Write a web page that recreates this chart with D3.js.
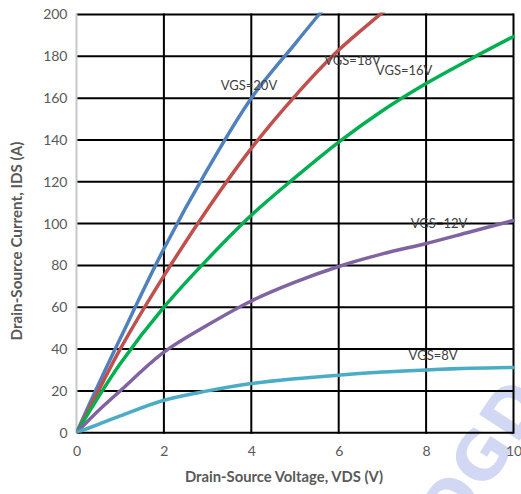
<!DOCTYPE html>
<html>
<head>
<meta charset="utf-8">
<script src="https://cdn.jsdelivr.net/npm/d3@7/dist/d3.min.js"></script>
<style>
  html, body { margin: 0; padding: 0; background: #fff; }
  svg { display: block; }
</style>
</head>
<body>
<svg id="chart" width="521" height="494"></svg>
<script>
// Output characteristics: drain current vs drain-source voltage for several gate voltages
const vdsTicks = [0, 2, 4, 6, 8, 10];
const idsTicks = [0, 20, 40, 60, 80, 100, 120, 140, 160, 180, 200];

const vgs20 = [[0,0],[0.5,23],[1,45],[2,88],[3,126],[4,160],[5,186],[5.55,200],[6,211]];
const vgs18 = [[0,0],[0.5,20],[1,40],[2,75],[3,107],[4,136],[5,161],[6,183],[7,201],[7.5,210]];
const vgs16 = [[0,0],[0.5,17],[1,33],[2,60],[3,83],[4,104],[5,122],[6,139],[7,154],[8,167],[9,178.5],[10,189.5]];
const vgs12 = [[0,0],[0.5,10.5],[1,20],[2,38.5],[3,51.5],[4,63],[5,72],[6,79.5],[7,85.5],[8,90.5],[9,96],[10,101.5]];
const vgs8  = [[0,0],[0.5,4],[1,8],[2,15.5],[3,20],[4,23.5],[5,25.8],[6,27.5],[7,29],[8,30],[9,30.8],[10,31.2]];

const seriesNames  = ["VGS=20V", "VGS=18V", "VGS=16V", "VGS=12V", "VGS=8V"];
const seriesData   = [vgs20, vgs18, vgs16, vgs12, vgs8];
const seriesColors = ["#4f81bd", "#c0504d", "#00b050", "#8064a2", "#4bacc6"];
// label anchor in data units (x, y)
const labelPos = [[3.3, 164], [5.67, 176], [6.85, 171], [7.65, 98], [7.6, 35]];

const svg = d3.select("#chart");
const plotLeft = 76.5, plotRight = 513.5, plotTop = 14.5, plotBottom = 432.7;

const x = d3.scaleLinear().domain([0, 10]).range([plotLeft, plotRight]);
const y = d3.scaleLinear().domain([0, 200]).range([plotBottom, plotTop]);

const font = "Lato, 'Open Sans', sans-serif";

// faint watermark in the lower-right corner
svg.append("text")
  .attr("transform", "translate(455,540) rotate(-57)")
  .attr("font-family", "'DejaVu Sans', sans-serif")
  .attr("font-weight", "bold")
  .attr("font-size", 66)
  .attr("fill", "#d2d8f3")
  .attr("letter-spacing", 1)
  .text("OGD");

svg.append("defs").append("clipPath").attr("id", "plotClip")
  .append("rect").attr("x", plotLeft).attr("y", plotTop - 2)
  .attr("width", plotRight - plotLeft + 2).attr("height", plotBottom - plotTop + 2);

// horizontal grid lines
svg.append("g").selectAll("line").data(idsTicks).join("line")
  .attr("x1", x(0)).attr("x2", x(10))
  .attr("y1", d => y(d)).attr("y2", d => y(d))
  .attr("stroke", "#000").attr("stroke-width", 2);

// vertical grid lines (the x=0 one is the light axis line)
svg.append("g").selectAll("line").data(vdsTicks).join("line")
  .attr("x1", d => x(d)).attr("x2", d => x(d))
  .attr("y1", y(0) + 1).attr("y2", y(200) - 1)
  .attr("stroke", d => d === 0 ? "#c8c8c8" : "#000")
  .attr("stroke-width", 2);

// tick labels via d3 axes (tick marks hidden)
const yAxis = svg.append("g").attr("transform", `translate(${plotLeft},0)`)
  .call(d3.axisLeft(y).tickValues(idsTicks).tickSize(0).tickPadding(9));
yAxis.select(".domain").remove();
yAxis.selectAll("text").attr("font-family", font).attr("font-size", 14).attr("fill", "#595959");

const xAxis = svg.append("g").attr("transform", `translate(0,${plotBottom})`)
  .call(d3.axisBottom(x).tickValues(vdsTicks).tickSize(0).tickPadding(13));
xAxis.select(".domain").remove();
xAxis.selectAll("text").attr("font-family", font).attr("font-size", 14).attr("fill", "#595959");

// curves
const line = d3.line().x(d => x(d[0])).y(d => y(d[1])).curve(d3.curveCatmullRom.alpha(0.5));
svg.append("g").attr("clip-path", "url(#plotClip)")
  .selectAll("path").data(seriesData).join("path")
  .attr("d", line)
  .attr("fill", "none")
  .attr("stroke", (d, i) => seriesColors[i])
  .attr("stroke-width", 3.5)
  .attr("stroke-linecap", "round");

// series labels
svg.append("g").selectAll("text").data(seriesNames).join("text")
  .attr("x", (d, i) => x(labelPos[i][0]))
  .attr("y", (d, i) => y(labelPos[i][1]))
  .attr("font-family", font).attr("font-size", 13)
  .attr("fill", "#404040")
  .text(d => d);

// axis titles
svg.append("text")
  .attr("x", 284).attr("y", 482)
  .attr("text-anchor", "middle")
  .attr("font-family", font).attr("font-weight", "bold").attr("font-size", 14.8)
  .attr("fill", "#595959")
  .text("Drain-Source Voltage, VDS (V)");

svg.append("text")
  .attr("transform", "translate(22,241) rotate(-90)")
  .attr("text-anchor", "middle")
  .attr("font-family", font).attr("font-weight", "bold").attr("font-size", 15.2)
  .attr("fill", "#595959")
  .text("Drain-Source Current, IDS (A)");
</script>
</body>
</html>
